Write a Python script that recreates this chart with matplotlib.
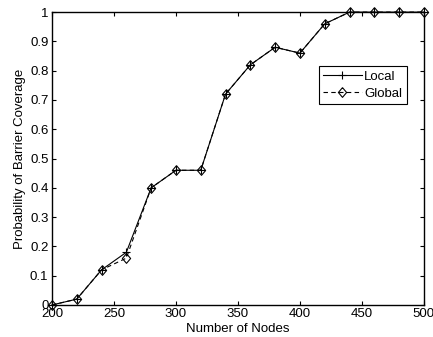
import matplotlib
matplotlib.use('Agg')
import matplotlib.pyplot as plt

plt.rcParams['font.family'] = ['Liberation Sans', 'DejaVu Sans']
plt.rcParams['font.size'] = 9.5

# data
nodes = [200, 220, 240, 260, 280, 300, 320, 340, 360, 380, 400, 420, 440, 460, 480, 500]
local = [0, 0.02, 0.12, 0.18, 0.40, 0.46, 0.46, 0.72, 0.82, 0.88, 0.86, 0.96, 1, 1, 1, 1]
global_ = [0, 0.02, 0.12, 0.16, 0.40, 0.46, 0.46, 0.72, 0.82, 0.88, 0.86, 0.96, 1, 1, 1, 1]

# MATLAB-like diamond, slightly taller than wide
diamond = [(0, 1), (0.85, 0), (0, -1), (-0.85, 0), (0, 1)]

fig = plt.figure(figsize=(4.33, 3.37), dpi=100)
ax = fig.add_axes([0.120, 0.095, 0.859, 0.869])

ax.plot(nodes, local, color='black', linestyle='-', linewidth=0.8,
        marker='+', markersize=6, markeredgewidth=0.8, label='Local', clip_on=False)
ax.plot(nodes, global_, color='black', linestyle='--', linewidth=0.8, dashes=(4, 3),
        marker=diamond, markersize=7, markerfacecolor='none', markeredgewidth=0.8,
        label='Global', clip_on=False)

ax.set_xlim(200, 500)
ax.set_ylim(0, 1)
ax.set_xticks([200, 250, 300, 350, 400, 450, 500])
ax.set_yticks([0, 0.1, 0.2, 0.3, 0.4, 0.5, 0.6, 0.7, 0.8, 0.9, 1])
ax.set_yticklabels(['0', '0.1', '0.2', '0.3', '0.4', '0.5', '0.6', '0.7', '0.8', '0.9', '1'])
ax.tick_params(direction='in', top=True, right=True, length=3, width=0.8, pad=2.5)
for s in ax.spines.values():
    s.set_linewidth(1.0)

ax.set_xlabel('Number of Nodes', labelpad=2)
ax.set_ylabel('Probability of Barrier Coverage', labelpad=3)

leg = ax.legend(loc='upper right', bbox_to_anchor=(0.954, 0.816), fancybox=False,
                edgecolor='black', framealpha=1, handlelength=2.9, borderpad=0.35,
                labelspacing=0.35, handletextpad=0.2, borderaxespad=0)
leg.get_frame().set_linewidth(0.8)

fig.savefig('out.png', dpi=100)
